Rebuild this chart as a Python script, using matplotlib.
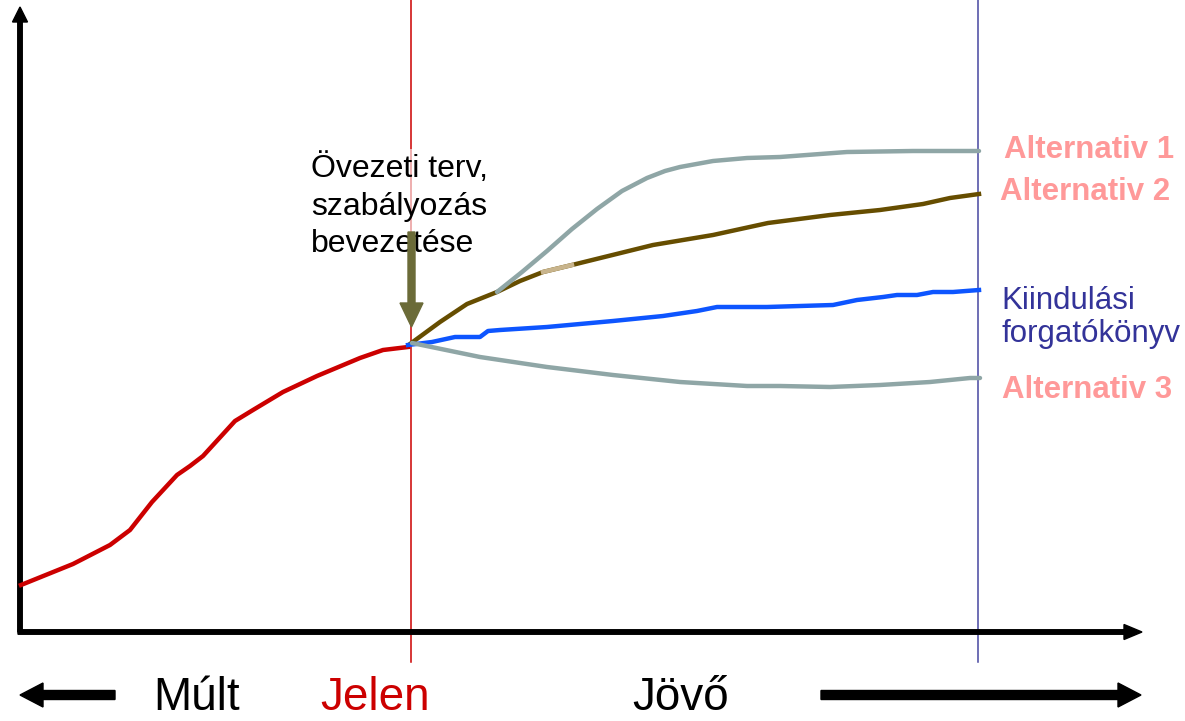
import matplotlib.pyplot as plt

# pixel-like coordinates: x = time position, y = level (measured from the top)
past_x = [21, 73, 110, 130, 152, 177, 190, 203, 235, 253, 283, 317, 360, 383, 408]
past_y = [585, 564, 545, 530, 502, 475, 466, 456, 421, 410, 392, 376, 358, 350, 347]

alt2_x = [410, 440, 467, 497, 520, 543, 572, 653, 713, 768, 830, 880, 923, 950, 979]
alt2_y = [344, 322, 304, 292, 281, 272, 265, 245, 235, 223, 215, 210, 204, 198, 194]

alt1_x = [497, 522, 547, 572, 597, 622, 647, 665, 680, 713, 747, 780, 847, 913, 979]
alt1_y = [292, 272, 251, 229, 209, 191, 178, 171, 167, 161, 158, 157, 152, 151, 151]

base_x = [408, 432, 455, 480, 488, 500, 547, 613, 663, 697, 717, 767, 800, 833,
          857, 883, 897, 917, 933, 953, 979]
base_y = [345, 342, 337, 337, 331, 330, 327, 321, 316, 311, 307, 307, 306, 305,
          300, 297, 295, 295, 292, 292, 290]

alt3_x = [412, 480, 547, 613, 680, 747, 780, 830, 880, 930, 970, 980]
alt3_y = [343, 357, 367, 375, 382, 386, 386, 387, 385, 382, 378, 378]

labels_right = ["Alternativ 1", "Alternativ 2", "Alternativ 3"]
label_base = "Kiindulási\nforgatókönyv"
note = "Övezeti terv,\nszabályozás\nbevezetése"
time_labels = ["Múlt", "Jelen", "Jövő"]

RED = "#cc0000"
PINK = "#ff9999"
GRAY = "#8fa6a6"
BROWN = "#664d00"
BLUE = "#0d55ff"
NAVY = "#333399"
OLIVE = "#6b6b38"

plt.rcParams["font.family"] = ["Liberation Sans", "DejaVu Sans"]

fig = plt.figure(figsize=(11.85, 7.21), dpi=100)
ax = fig.add_axes([0, 0, 1, 1])
ax.set_xlim(0, 1185)
ax.set_ylim(721, 0)
ax.axis("off")

# present / horizon markers
ax.plot([411, 411], [0, 662], color=RED, lw=1.1, zorder=1)
ax.plot([978, 978], [0, 662], color="#4646a0", lw=1.1, zorder=1)

# axes with arrow heads
ax.arrow(20, 632, 0, -625, width=4.5, head_width=15, head_length=15,
         length_includes_head=True, color="black", zorder=3)
ax.arrow(18, 632, 1124, 0, width=4.5, head_width=15, head_length=18,
         length_includes_head=True, color="black", zorder=3)

# curves
lw = 3.2
ax.plot(past_x, past_y, color=RED, lw=lw, zorder=4)
ax.plot(alt2_x, alt2_y, color=BROWN, lw=lw, zorder=4)
ax.plot(alt2_x[5:7], alt2_y[5:7], color="#c8b48c", lw=lw, zorder=4)
ax.plot(alt1_x, alt1_y, color=GRAY, lw=lw, zorder=4, solid_capstyle="round")
ax.plot(base_x, base_y, color=BLUE, lw=lw, zorder=4)
ax.plot(alt3_x, alt3_y, color=GRAY, lw=lw, zorder=4, solid_capstyle="round")

# intervention note and arrow
ax.text(311, 252, note, fontsize=23, color="black", va="baseline",
        ha="left", linespacing=1.32, zorder=2,
        bbox=dict(boxstyle="square,pad=0.15", fc="white", ec="none", alpha=0.6))
ax.arrow(411.5, 232, 0, 95, width=7, head_width=23, head_length=24,
         length_includes_head=True, color=OLIVE, zorder=5)

# right side labels
ax.text(1004, 158, labels_right[0], fontsize=22.5, fontweight="bold", color=PINK,
        va="baseline")
ax.text(1000, 200, labels_right[1], fontsize=22.5, fontweight="bold", color=PINK,
        va="baseline")
ax.text(1002, 398, labels_right[2], fontsize=22.5, fontweight="bold", color=PINK,
        va="baseline")
ax.text(1001, 342, label_base, fontsize=22.5, color=NAVY, va="baseline",
        linespacing=1.12)

# time labels and direction arrows
ax.text(153, 720.5, time_labels[0], fontsize=33, color="black", va="bottom")
ax.text(320, 720.5, time_labels[1], fontsize=33, color=RED, va="bottom")
ax.text(632, 720.5, time_labels[2], fontsize=33, color="black", va="bottom")
ax.arrow(115, 695, -95, 0, width=9, head_width=24, head_length=23,
         length_includes_head=True, color="black")
ax.arrow(821, 695, 320, 0, width=9, head_width=24, head_length=23,
         length_includes_head=True, color="black")

fig.savefig("out.png", dpi=100)
